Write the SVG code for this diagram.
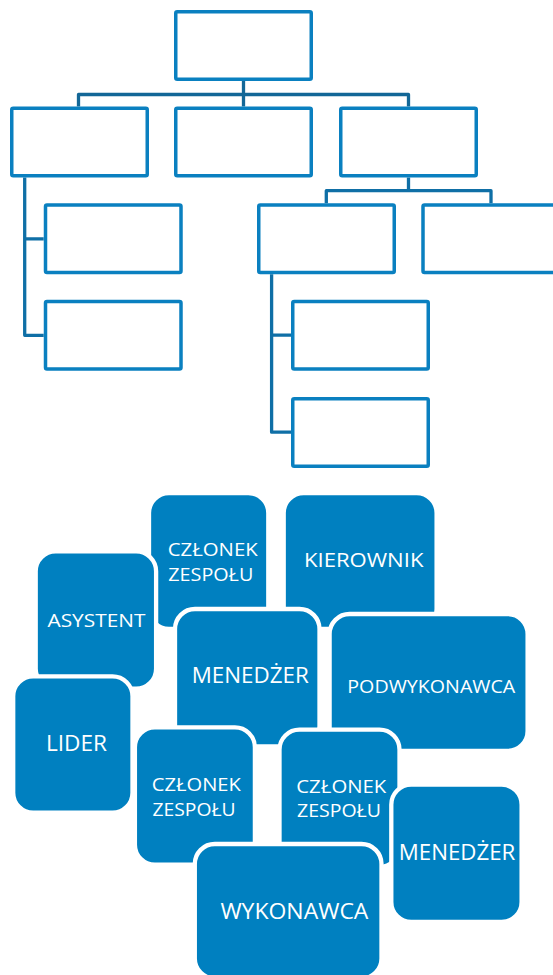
<svg xmlns="http://www.w3.org/2000/svg" width="553" height="975" viewBox="0 0 553 975">
  <style>
    .box { fill: #ffffff; stroke: #0a80c0; stroke-width: 3.5; }
    .conn { fill: none; stroke: #0f6fa6; stroke-width: 3.3; stroke-linejoin: round; }
    .conn-top { stroke: #136797; }
    .tile { fill: #0080c0; stroke: #ffffff; stroke-width: 4.3; }
    .lbl { fill: #ffffff; font-family: "Open Sans", "Noto Sans", "DejaVu Sans", sans-serif; text-anchor: middle; }
  </style>
  <rect x="0" y="0" width="553" height="975" fill="#ffffff"/>

  <g id="connectors">
    <path class="conn conn-top" d="M78.5,106.5 V94.5 H408.5 V106.5 M243.5,81 V106.5"/>
    <path class="conn" d="M24.7,177.5 V335.3 H43.7 M24.7,238.8 H43.7"/>
    <path class="conn" d="M408.5,177.5 V190.7 M326.3,203.3 V190.7 H491 V203.3"/>
    <path class="conn" d="M271.6,274.3 V432.2 H291 M271.6,335.2 H291"/>
  </g>

  <g id="org-top"><rect class="box" x="175.75" y="11.75" width="135.5" height="67.5" rx="1.5"/></g>
  <g id="org-l2-a"><rect class="box" x="11.75" y="108.25" width="135.5" height="67.5" rx="1.5"/></g>
  <g id="org-l2-b"><rect class="box" x="175.75" y="108.25" width="135.5" height="67.5" rx="1.5"/></g>
  <g id="org-l2-c"><rect class="box" x="340.75" y="108.25" width="135.5" height="67.5" rx="1.5"/></g>
  <g id="org-l3-a"><rect class="box" x="45.5" y="205" width="135.5" height="67.5" rx="1.5"/></g>
  <g id="org-l3-b"><rect class="box" x="258.75" y="205" width="135.5" height="67.5" rx="1.5"/></g>
  <g id="org-l3-c"><rect class="box" x="423" y="205" width="135.5" height="67.5" rx="1.5"/></g>
  <g id="org-l4-a"><rect class="box" x="45.5" y="301.5" width="135.5" height="67.5" rx="1.5"/></g>
  <g id="org-l4-b"><rect class="box" x="292.75" y="301.5" width="135.5" height="67.5" rx="1.5"/></g>
  <g id="org-l5-b"><rect class="box" x="292.75" y="398.75" width="135.5" height="67.5" rx="1.5"/></g>

  <g id="tile-czlonek-1">
    <rect class="tile" x="149" y="493" width="119.3" height="136" rx="20"/>
    <text class="lbl" font-size="19" x="212.7" y="555.7" textLength="90" lengthAdjust="spacingAndGlyphs">CZŁONEK</text>
    <text class="lbl" font-size="19" x="210.8" y="580.7" textLength="85" lengthAdjust="spacingAndGlyphs">ZESPOŁU</text>
  </g>
  <g id="tile-kierownik">
    <rect class="tile" x="283.7" y="493" width="152.9" height="136" rx="20"/>
    <text class="lbl" font-size="20" x="363.7" y="566.7" textLength="119.5" lengthAdjust="spacingAndGlyphs">KIEROWNIK</text>
  </g>
  <g id="tile-asystent">
    <rect class="tile" x="35.7" y="551.3" width="120.4" height="137.4" rx="20"/>
    <text class="lbl" font-size="19" x="96.5" y="627.3" textLength="98" lengthAdjust="spacingAndGlyphs">ASYSTENT</text>
  </g>
  <g id="tile-menedzer-1">
    <rect class="tile" x="175" y="609" width="144.5" height="137.3" rx="20"/>
    <text class="lbl" font-size="21" x="250.2" y="683.3" textLength="117" lengthAdjust="spacingAndGlyphs">MENEDŻER</text>
  </g>
  <g id="tile-podwykonawca">
    <rect class="tile" x="329.6" y="614" width="198" height="137" rx="20"/>
    <text class="lbl" font-size="19" x="431.3" y="693.3" textLength="168" lengthAdjust="spacingAndGlyphs">PODWYKONAWCA</text>
  </g>
  <g id="tile-lider">
    <rect class="tile" x="13.2" y="676.3" width="119.3" height="136.4" rx="20"/>
    <text class="lbl" font-size="21" x="76.4" y="751.2" textLength="61" lengthAdjust="spacingAndGlyphs">LIDER</text>
  </g>
  <g id="tile-czlonek-2">
    <rect class="tile" x="134.9" y="727.3" width="120" height="137.4" rx="20"/>
    <text class="lbl" font-size="19" x="196.3" y="790.7" textLength="89" lengthAdjust="spacingAndGlyphs">CZŁONEK</text>
    <text class="lbl" font-size="19" x="194" y="815.7" textLength="83" lengthAdjust="spacingAndGlyphs">ZESPOŁU</text>
  </g>
  <g id="tile-czlonek-3">
    <rect class="tile" x="279.5" y="729.7" width="120" height="137.3" rx="20"/>
    <text class="lbl" font-size="19" x="341.3" y="792.7" textLength="90" lengthAdjust="spacingAndGlyphs">CZŁONEK</text>
    <text class="lbl" font-size="19" x="339" y="816.7" textLength="84" lengthAdjust="spacingAndGlyphs">ZESPOŁU</text>
  </g>
  <g id="tile-menedzer-2">
    <rect class="tile" x="391.3" y="784.7" width="130.3" height="137.3" rx="20"/>
    <text class="lbl" font-size="21" x="457" y="859.5" textLength="116.5" lengthAdjust="spacingAndGlyphs">MENEDŻER</text>
  </g>
  <g id="tile-wykonawca">
    <rect class="tile" x="194.8" y="844" width="186.7" height="134.5" rx="20"/>
    <text class="lbl" font-size="21" x="294.4" y="918.5" textLength="148" lengthAdjust="spacingAndGlyphs">WYKONAWCA</text>
  </g>
</svg>
